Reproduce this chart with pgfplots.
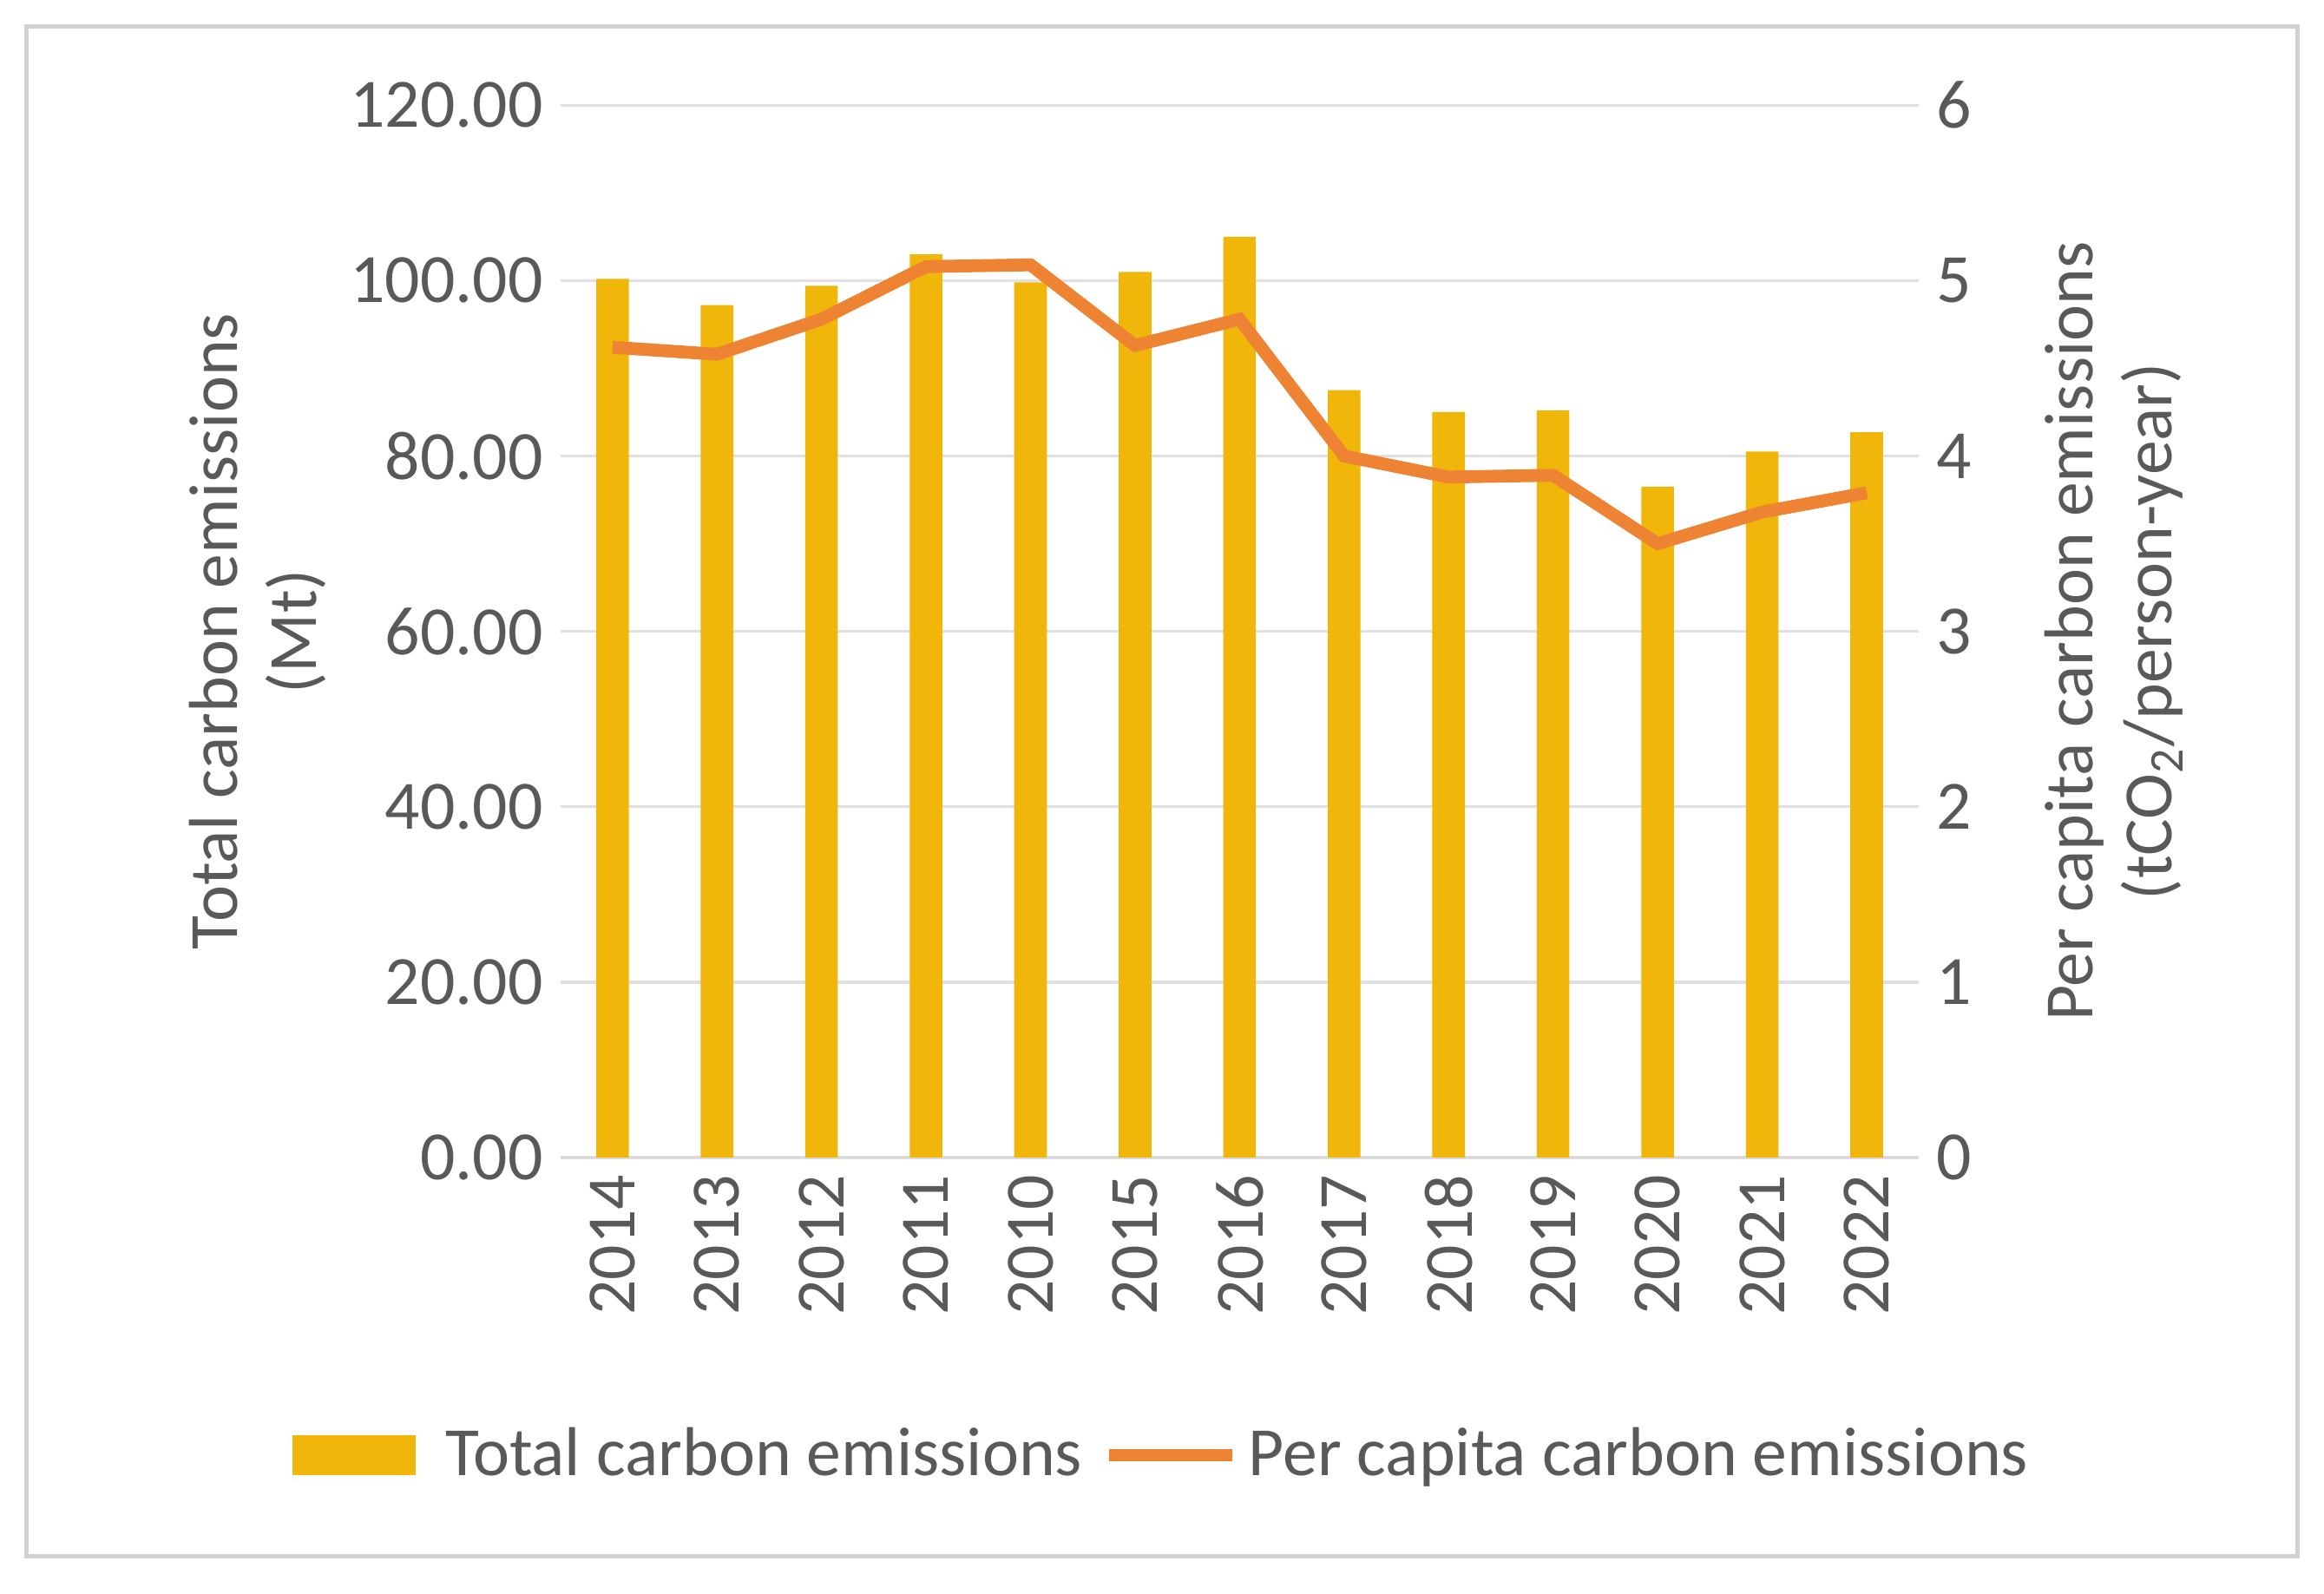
\documentclass[border=0pt]{standalone}
\usepackage{pgfplots}
\pgfplotsset{compat=1.18}
\usepackage{fontspec}
\setmainfont{Carlito}
\definecolor{barc}{HTML}{F0B70A}
\definecolor{linec}{HTML}{EE8433}
\definecolor{txt}{HTML}{595959}
\begin{document}
\begin{tikzpicture}[x=1pt,y=1pt]
\path (0,0) rectangle (470.4,322.5);
\draw[black!18,line width=0.8pt] (5.4,7.5) rectangle (465,317.1);
\pgfplotsset{every axis/.style={scale only axis,width=275pt,height=213pt,at={(113.4pt,88.2pt)},anchor=south west,
  xmin=-0.5,xmax=12.5,font=\fontsize{14}{16}\selectfont\color{txt},
  /pgf/number format/assume math mode=true,tick style={draw=none}}}
\begin{axis}[
  axis x line*=bottom, x axis line style={draw=black!15,-},
  axis y line*=left, y axis line style={draw=none},
  ymin=0,ymax=120,ytick={0,20,...,120},
  yticklabel style={/pgf/number format/.cd,fixed,fixed zerofill,precision=2},
  ymajorgrids,grid style={black!12,line width=0.6pt},
  xtick={0,...,12},xticklabels={2014,2013,2012,2011,2010,2015,2016,2017,2018,2019,2020,2021,2022},
  xticklabel style={rotate=90,anchor=east},
  ylabel={Total carbon emissions\\(Mt)},ylabel style={align=center,yshift=-2pt}]
\addplot[ybar,bar width=6.6pt,fill=barc,draw=none] coordinates {(0,100.2)(1,97.2)(2,99.4)(3,103)(4,99.8)(5,101)(6,105)(7,87.5)(8,85)(9,85.2)(10,76.5)(11,80.5)(12,82.7)};
\end{axis}
\begin{axis}[axis y line*=right,axis x line=none,y axis line style={draw=none,-},
  ymin=0,ymax=6,ytick={0,...,6},
  ylabel={Per capita carbon emissions\\(tCO\textsubscript{2}/person-year)},ylabel style={align=center,yshift=-8pt},
  legend style={at={(0.438,-0.283)},anchor=center,draw=none,fill=none,legend columns=2,
    /tikz/every even column/.style={column sep=2pt},font=\fontsize{14}{16}\selectfont\color{txt}},
  legend image code/.code={\draw[#1] (0pt,0pt) -- (25pt,0pt);}]
\addlegendimage{barc,line width=8pt}
\addlegendentry{Total carbon emissions}
\addplot[linec,line width=2.6pt] coordinates {(0,4.62)(1,4.58)(2,4.78)(3,5.08)(4,5.09)(5,4.63)(6,4.78)(7,4.00)(8,3.88)(9,3.89)(10,3.50)(11,3.68)(12,3.79)};
\addlegendentry{Per capita carbon emissions}
\end{axis}
\end{tikzpicture}
\end{document}
